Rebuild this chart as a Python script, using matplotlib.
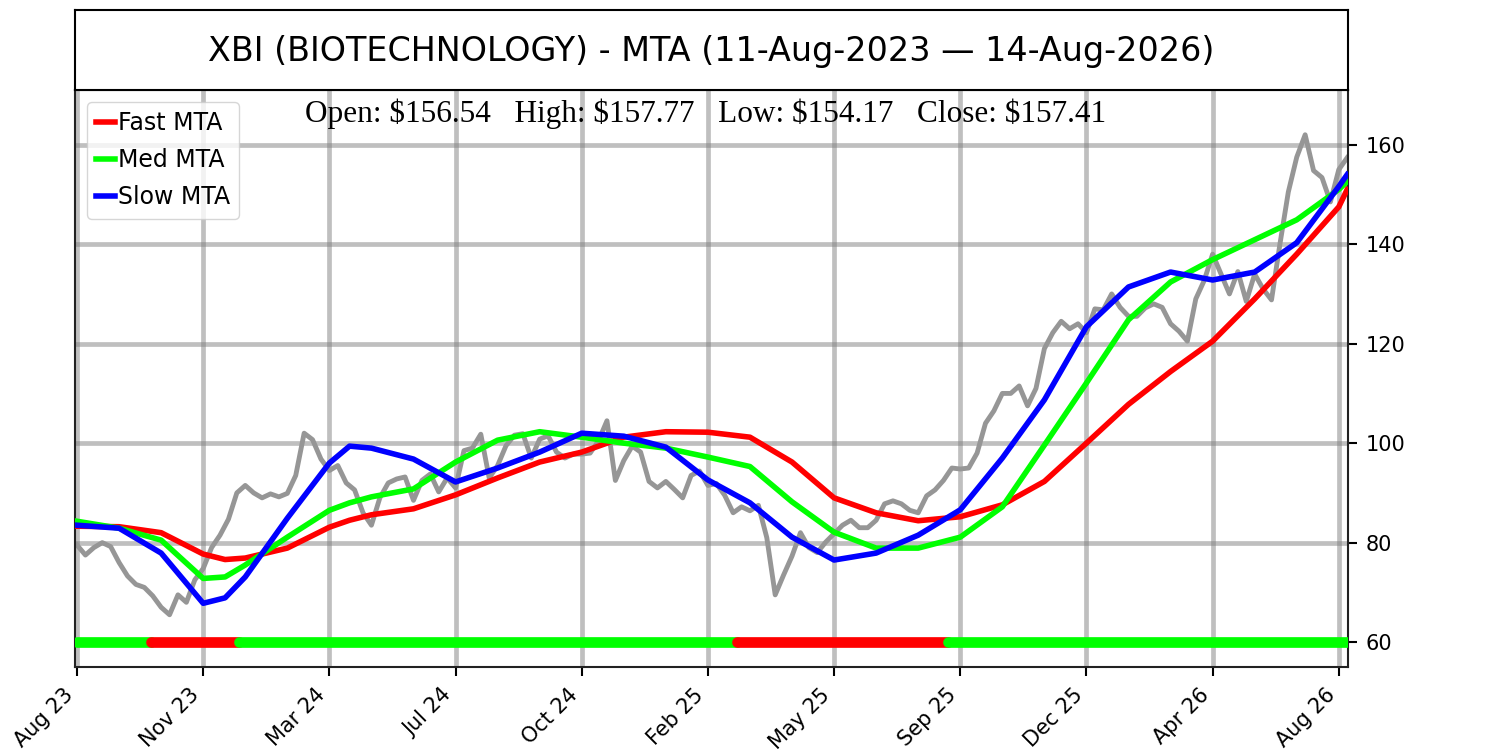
import numpy as np
import matplotlib
matplotlib.use('Agg')
import matplotlib.pyplot as plt

# weekly closes (one every 5 trading bars)
close = [79.5, 77.5, 79.0, 80.0, 79.2, 76.0, 73.3, 71.6, 71.0, 69.3,
         67.0, 65.5, 69.5, 68.0, 72.5, 74.8, 79.0, 81.5, 84.7, 90.0,
         91.5, 90.0, 89.0, 89.8, 89.2, 89.9, 93.5, 102.0, 100.7, 96.8,
         94.5, 95.5, 92.0, 90.6, 86.0, 83.5, 89.0, 92.0, 92.8, 93.2,
         88.5, 92.5, 93.8, 90.2, 93.0, 91.0, 98.5, 99.0, 101.8, 93.0,
         95.5, 99.5, 101.6, 101.9, 97.0, 100.8, 101.5, 98.2, 97.0, 97.8,
         97.8, 98.0, 100.5, 104.5, 92.5, 96.5, 99.4, 98.2, 92.3, 91.0,
         92.3, 90.7, 89.0, 93.5, 94.4, 91.5, 91.9, 89.5, 86.0, 87.2,
         86.4, 87.5, 81.0, 69.5, 73.5, 77.3, 82.0, 79.0, 78.0, 80.1,
         81.8, 83.5, 84.5, 83.0, 83.0, 84.5, 87.8, 88.4, 87.8, 86.5,
         86.0, 89.4, 90.6, 92.5, 95.0, 94.8, 95.0, 98.0, 104.0, 106.5,
         110.0, 110.0, 111.5, 107.5, 111.0, 119.0, 122.2, 124.5, 123.0, 124.0,
         122.2, 127.0, 126.8, 130.0, 127.3, 125.5, 125.5, 127.2, 128.0, 127.3,
         124.0, 122.5, 120.5, 129.0, 132.7, 138.0, 134.0, 130.0, 134.5, 128.5,
         134.0, 131.0, 128.8, 140.0, 150.5, 157.5, 162.0, 154.8, 153.4, 148.5,
         155.0, 157.4]
close_bar = [5 * i for i in range(len(close))]

# MTA lines sampled along the bars
mta_bar = [0, 25, 50, 75, 88, 100, 125, 150, 162, 175, 200, 225, 250, 275, 300,
           325, 350, 375, 400, 425, 450, 475, 500, 525, 550, 575, 600, 625, 650,
           675, 700, 725, 750, 755]
fast = [83.3, 83.2, 82.0, 77.7, 76.6, 76.9, 78.9, 83.1, 84.5, 85.6, 86.8, 89.6,
        93.0, 96.2, 98.2, 101.2, 102.3, 102.2, 101.2, 96.2, 89.0, 86.0, 84.4,
        85.2, 87.6, 92.3, 100.0, 107.8, 114.4, 120.5, 129.0, 138.0, 147.5, 151.0]
med = [84.3, 82.9, 80.5, 72.8, 73.1, 75.5, 81.1, 86.5, 88.0, 89.2, 90.8, 96.2,
       100.6, 102.3, 101.2, 100.0, 99.0, 97.2, 95.3, 88.2, 82.1, 78.9, 78.9,
       81.1, 87.2, 99.6, 112.1, 124.8, 132.4, 136.9, 140.9, 144.9, 151.0, 152.6]
slow = [83.5, 82.9, 77.9, 67.8, 68.9, 73.1, 84.9, 96.0, 99.4, 99.0, 96.8, 92.2,
        95.0, 98.2, 102.0, 101.4, 99.2, 92.6, 88.0, 81.1, 76.5, 77.9, 81.5, 86.6,
        97.0, 108.7, 123.4, 131.4, 134.4, 132.8, 134.4, 140.3, 151.6, 154.0]

# trend state strip (bar where state starts)
state_start = [0, 44, 96, 392, 518]
state_color = ['#00ff00', '#ff0000', '#00ff00', '#ff0000', '#00ff00']
last_bar = 755

tick_bar = [0, 75, 150, 225, 300, 375, 450, 525, 600, 675, 750]
tick_lbl = ['Aug 23', 'Nov 23', 'Mar 24', 'Jul 24', 'Oct 24', 'Feb 25',
            'May 25', 'Sep 25', 'Dec 25', 'Apr 26', 'Aug 26']

title = 'XBI (BIOTECHNOLOGY) - MTA (11-Aug-2023 \u2014 14-Aug-2026)'
o, h, l, c = 156.54, 157.77, 154.17, 157.41

fig = plt.figure(figsize=(15, 7.5), dpi=100)
ax = fig.add_axes([0.05, 0.1107, 0.8487, 0.7693])
tax = fig.add_axes([0.05, 0.88, 0.8487, 0.1067])

tax.set_xticks([])
tax.set_yticks([])
for s in tax.spines.values():
    s.set_linewidth(1.5)
tax.text(0.5, 0.48, title, ha='center', va='center', fontsize=24,
         transform=tax.transAxes)

ax.grid(True, color='gray', alpha=0.5, lw=3.4)
ax.set_axisbelow(True)

ax.plot(close_bar, close, color='#969696', lw=3.5, zorder=2)
ax.plot(mta_bar, fast, color='#ff0000', lw=4, label='Fast MTA', zorder=3)
ax.plot(mta_bar, med, color='#00ff00', lw=4, label='Med MTA', zorder=3)
ax.plot(mta_bar, slow, color='#0000ff', lw=4, label='Slow MTA', zorder=3)

ends = state_start[1:] + [last_bar]
for s0, s1, col in zip(state_start, ends, state_color):
    ax.plot([s0, s1], [60, 60], color=col, lw=7.7, solid_capstyle='round', zorder=4)

ax.set_xlim(-1.2, 755.5)
ax.set_ylim(55, 171)
ax.set_yticks([60, 80, 100, 120, 140, 160])
ax.yaxis.tick_right()
ax.set_xticks(tick_bar)
ax.set_xticklabels(tick_lbl, rotation=45, ha='right')
ax.tick_params(labelsize=15, length=6.8, width=1.5, pad=6)
for s in ax.spines.values():
    s.set_linewidth(1.5)
    s.set_color('#222222')

leg = ax.legend(loc='upper left', fontsize=17, handlelength=0.8,
                handletextpad=0.1, borderpad=0.4, labelspacing=0.55)
for line in leg.get_lines():
    line.set_linewidth(4)

ax.text(0.495, 0.985,
        r'Open: \$%.2f   High: \$%.2f   Low: \$%.2f   Close: \$%.2f' % (o, h, l, c),
        transform=ax.transAxes, ha='center', va='top', fontsize=22.5,
        family='Liberation Serif')

plt.savefig('out.png', dpi=100)
